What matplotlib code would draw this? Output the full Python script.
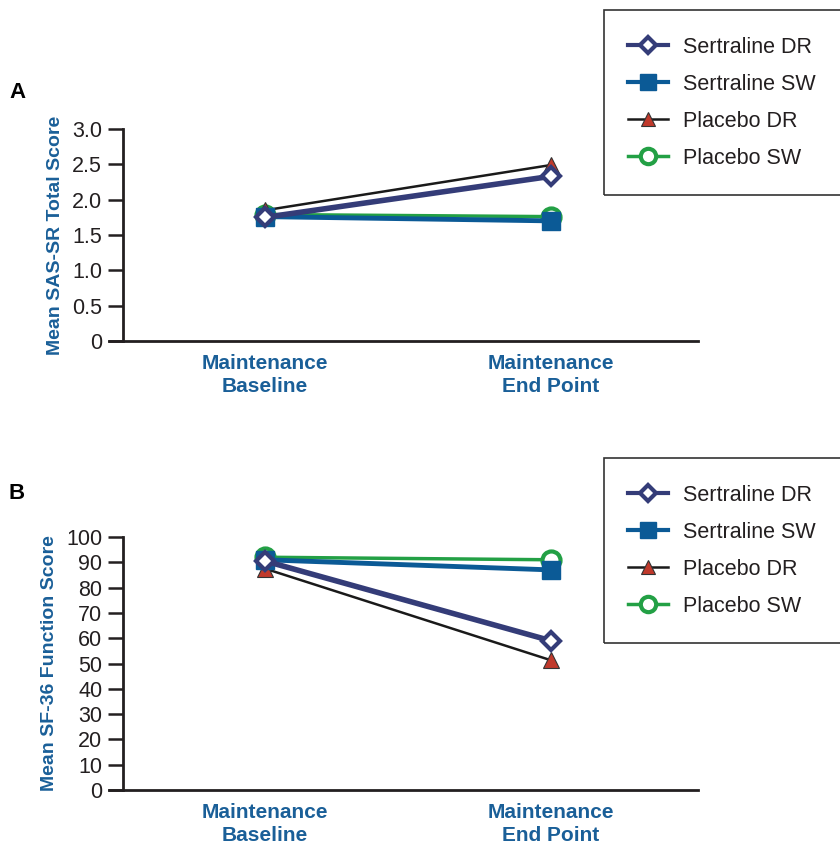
import matplotlib
matplotlib.use("Agg")
import matplotlib.pyplot as plt
from matplotlib.patches import Rectangle

plt.rcParams['font.family'] = ['Liberation Sans', 'DejaVu Sans']

timepoints = ["Maintenance\nBaseline", "Maintenance\nEnd Point"]
series_names = ["Sertraline DR", "Sertraline SW", "Placebo DR", "Placebo SW"]

# Panel A: Mean SAS-SR Total Score
sas_sertraline_dr = [1.75, 2.33]
sas_sertraline_sw = [1.76, 1.70]
sas_placebo_dr = [1.85, 2.49]
sas_placebo_sw = [1.79, 1.76]

# Panel B: Mean SF-36 Function Score
sf_sertraline_dr = [90.5, 59.0]
sf_sertraline_sw = [91.0, 87.0]
sf_placebo_dr = [87.5, 51.3]
sf_placebo_sw = [92.0, 91.0]

a_ticks = [0, 0.5, 1.0, 1.5, 2.0, 2.5, 3.0]
a_ticklabels = ["0", "0.5", "1.0", "1.5", "2.0", "2.5", "3.0"]
b_ticks = list(range(0, 101, 10))
b_ticklabels = [str(t) for t in b_ticks]

NAVY = "#343c78"
BLUE = "#0b5a96"
RED = "#c0392b"
GREEN = "#23a045"
AXC = "#231f20"
LBL = "#1a5f98"

fig = plt.figure(figsize=(8.4, 8.47), dpi=100)
W, H = 840, 847

def make_axes(top_px, bottom_px):
    left, right = 123, 698
    return fig.add_axes([left / W, 1 - bottom_px / H, (right - left) / W, (bottom_px - top_px) / H])

def draw_panel(ax, sdr, ssw, pdr, psw, ticks, ticklabels, ylim, ylabel):
    x = [0, 1]
    h = {}
    h["Placebo SW"], = ax.plot(x, psw, color=GREEN, lw=2.5, marker='o', ms=13,
                               mfc='white', mec=GREEN, mew=3, zorder=3, clip_on=False)
    h["Placebo DR"], = ax.plot(x, pdr, color='#1a1a1a', lw=1.8, marker='^', ms=12,
                               mfc=RED, mec='#333333', mew=0.8, zorder=4, clip_on=False)
    h["Sertraline SW"], = ax.plot(x, ssw, color=BLUE, lw=3.5, marker='s', ms=13,
                                  mfc=BLUE, mec=BLUE, zorder=5, clip_on=False)
    h["Sertraline DR"], = ax.plot(x, sdr, color=NAVY, lw=4, marker='D', ms=9,
                                  mfc='white', mec=NAVY, mew=3, zorder=6, clip_on=False)
    ax.set_xlim(-0.497, 1.515)
    ax.set_ylim(*ylim)
    ax.set_yticks(ticks)
    ax.set_yticklabels(ticklabels, fontsize=15.5, color='#231f20')
    ax.set_xticks(x)
    ax.set_xticklabels(timepoints, fontsize=15, fontweight='bold', color=LBL,
                       linespacing=1.3)
    ax.tick_params(axis='x', length=0, pad=9)
    ax.tick_params(axis='y', length=11, width=1.8, color=AXC, pad=4)
    for s in ['top', 'right']:
        ax.spines[s].set_visible(False)
    for s in ['left', 'bottom']:
        ax.spines[s].set_color(AXC)
        ax.spines[s].set_linewidth(2)
    ax.spines['bottom'].set_bounds(-0.497 - 0.05, 1.515)
    ax.set_ylabel(ylabel, fontsize=14, fontweight='bold', color=LBL, labelpad=6)
    return h

axA = make_axes(129, 341)
hA = draw_panel(axA, sas_sertraline_dr, sas_sertraline_sw, sas_placebo_dr, sas_placebo_sw,
                a_ticks, a_ticklabels, (0, 3.0), "Mean SAS-SR Total Score")
axB = make_axes(537, 790)
hB = draw_panel(axB, sf_sertraline_dr, sf_sertraline_sw, sf_placebo_dr, sf_placebo_sw,
                b_ticks, b_ticklabels, (0, 100), "Mean SF-36 Function Score")

fig.text(9 / W, 1 - 93 / H, "A", fontsize=16, fontweight='bold', va='center', ha='left')
fig.text(9 / W, 1 - 493 / H, "B", fontsize=16, fontweight='bold', va='center', ha='left')

def add_legend(handles, top_px, bottom_px):
    fig.patches.append(Rectangle((604 / W, 1 - bottom_px / H), 300 / W, (bottom_px - top_px) / H,
                                 transform=fig.transFigure, fill=False, ec='#333333', lw=1.2))
    hl = [handles[n] for n in series_names]
    leg = fig.legend(hl, series_names, loc='upper left',
                     bbox_to_anchor=(628 / W, 1 - (top_px + 27) / H),
                     frameon=False, fontsize=15.5, handlelength=1.85, handletextpad=0.7,
                     labelspacing=0.74, borderaxespad=0, borderpad=0)
    for t in leg.get_texts():
        t.set_color('#231f20')
    for lh in leg.legend_handles:
        lh.set_markersize(lh.get_markersize() * 0.85)
        lh.set_linewidth(min(lh.get_linewidth(), 3))
    return leg

add_legend(hA, 10, 195)
add_legend(hB, 458, 643)

fig.savefig("out.png", dpi=100)
